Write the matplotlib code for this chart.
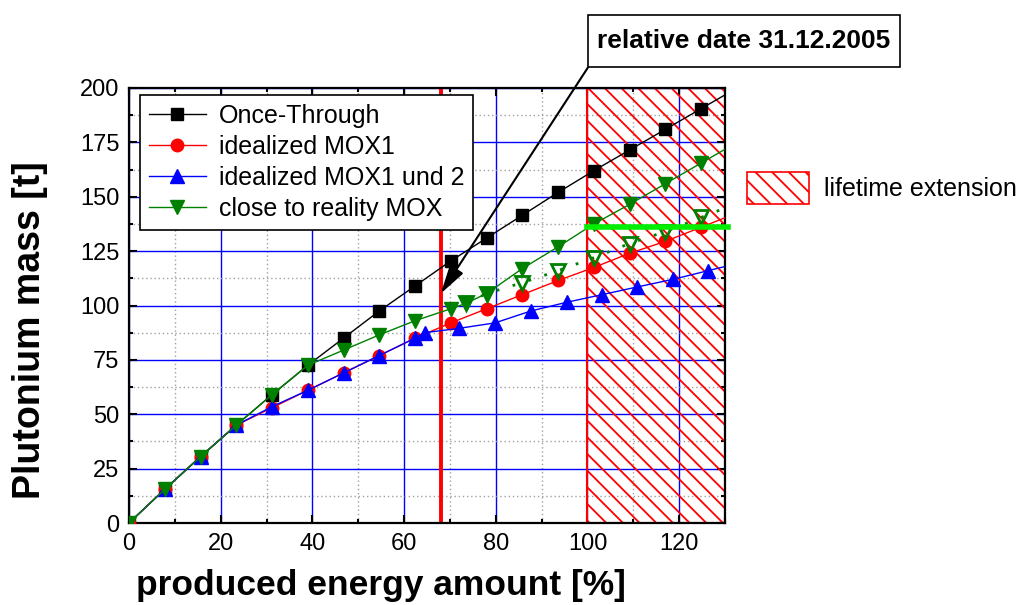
import numpy as np
import matplotlib
matplotlib.use("Agg")
import matplotlib.pyplot as plt
from matplotlib.patches import Patch
from matplotlib.path import Path
from matplotlib.ticker import MultipleLocator

# ---------------- data ----------------
x_ot = [0, 7.8, 15.6, 23.4, 31.2, 39.0, 46.8, 54.6, 62.4, 70.2, 78.0, 85.8, 93.6, 101.4, 109.2, 117.0, 124.8]
y_ot = [0, 15.5, 30.5, 45, 59, 72.5, 85, 97.5, 109, 120.5, 131, 141.5, 152, 162, 171.5, 181, 190.5]

x_mox1 = [0, 7.8, 15.6, 23.4, 31.2, 39.0, 46.8, 54.6, 62.4, 70.2, 78.0, 85.8, 93.6, 101.4, 109.2, 117.0, 124.8]
y_mox1 = [0, 15.5, 30.5, 45, 53, 61, 69, 77, 85, 92, 98.5, 105, 111.5, 117.5, 124, 129.5, 136]

x_mox12 = [0, 7.8, 15.6, 23.4, 31.2, 39.0, 46.8, 54.6, 62.4, 64.5, 72.0, 79.8, 87.7, 95.5, 103.2, 110.8, 118.6, 126.3]
y_mox12 = [0, 15.5, 30.5, 45, 53.5, 61, 69, 77, 85, 87.5, 89.5, 92, 97.5, 101.5, 105, 108.5, 112, 116]

x_real = [0, 7.8, 15.6, 23.4, 31.2, 39.0, 46.8, 54.6, 62.4, 70.2, 73.5, 78.0, 85.8, 93.6, 101.4, 109.2, 117.0, 124.8]
y_real = [0, 15.5, 30.5, 45, 59, 72.5, 79.5, 86.5, 93, 98.5, 101, 105.5, 117, 127, 137.5, 146.5, 156, 165.5]

x_real_open = [73.5, 78.0, 85.8, 93.6, 101.4, 109.2, 117.0, 124.8]
y_real_open = [101, 105.5, 110.5, 116, 122, 128.5, 134, 140.5]

labels = ["Once-Through", "idealized MOX1", "idealized MOX1 und 2", "close to reality MOX"]
x_ticks = [0, 20, 40, 60, 80, 100, 120]
y_ticks = [0, 25, 50, 75, 100, 125, 150, 175, 200]
ref_date_x = 68
ext_start, x_max = 100, 130
green_level = 136

GREEN = "#008000"
text_font = ["Liberation Sans", "DejaVu Sans"]

fig = plt.figure(figsize=(10.2, 6.05), dpi=100)
ax = fig.add_axes([129/1020, 1-523/605, 596/1020, 435/605])

ax.set_xlim(0, x_max)
ax.set_ylim(0, 200)
ax.set_axisbelow(True)

# grid
ax.xaxis.set_major_locator(MultipleLocator(20))
ax.xaxis.set_minor_locator(MultipleLocator(10))
ax.yaxis.set_major_locator(MultipleLocator(25))
ax.yaxis.set_minor_locator(MultipleLocator(12.5))
ax.grid(which="major", color="#0000ff", lw=1.0, ls="-")
ax.grid(which="minor", color="#a0a0a0", lw=1.0, ls=(0, (1, 2)))

# lifetime extension region
plt.rcParams["hatch.linewidth"] = 1.3
ax.axvspan(ext_start, x_max, facecolor="none", edgecolor="red", hatch="\\\\", lw=1.5, zorder=1.5)


def extend(xs, ys):
    slope = (ys[-1] - ys[-2]) / (xs[-1] - xs[-2])
    return [xs[-1], x_max], [ys[-1], ys[-1] + slope * (x_max - xs[-1])]


series = [
    (x_ot, y_ot, "black", "s", 8),
    (x_mox1, y_mox1, "red", "o", 9),
    (x_mox12, y_mox12, "blue", "^", 9.5),
    (x_real, y_real, GREEN, "v", 10),
]
handles = []
for (xs, ys, c, m, ms), lab in zip(series, labels):
    h, = ax.plot(xs, ys, color=c, lw=1.0, marker=m, ms=ms, mec=c, mfc=c, zorder=3, label=lab)
    ex, ey = extend(xs, ys)
    ax.plot(ex, ey, color=c, lw=1.0, zorder=3)
    handles.append(h)

ax.plot(x_real_open, y_real_open, color=GREEN, lw=2.0, ls=(0, (1, 5)), marker="v", ms=10,
        mfc="none", mec=GREEN, mew=2, zorder=3)
ex, ey = extend(x_real_open, y_real_open)
ax.plot(ex, ey, color=GREEN, lw=2.0, ls=(0, (1, 5)), zorder=3)

# reference date line & green level
ax.axvline(ref_date_x, color="red", lw=2.8, zorder=2.5)
ax.plot([ext_start, x_max + 0.6], [green_level, green_level], color="#00ee00", lw=4, zorder=4, clip_on=False)

# ticks
ax.set_xticks(x_ticks)
ax.set_yticks(y_ticks)
ax.tick_params(which="both", direction="in", top=True, right=True, width=1.5)
ax.tick_params(which="major", length=6, labelsize=17, pad=7)
ax.tick_params(which="minor", length=3)
for lab in ax.get_xticklabels() + ax.get_yticklabels():
    lab.set_family(text_font)
for s in ax.spines.values():
    s.set_linewidth(1.6)

# axis labels
ax.set_xlabel("produced energy amount [%]", fontsize=25.5, fontweight="bold", family=text_font)
ax.xaxis.set_label_coords((381-129)/596, (523-586)/435)
ax.xaxis.label.set_va("center")
ax.set_ylabel("Plutonium mass [t]", fontsize=27, fontweight="bold", family=text_font)
ax.yaxis.set_label_coords((30-129)/596, (523-330)/435)
ax.yaxis.label.set_va("center")

# legend
leg = ax.legend(handles=handles, loc="upper left", bbox_to_anchor=((140-129)/596, (523-95)/435),
                borderaxespad=0, fancybox=False, edgecolor="black", framealpha=1,
                prop={"family": text_font, "size": 18}, handlelength=2.3, labelspacing=0.28,
                borderpad=0.35, handletextpad=0.5)
leg.get_frame().set_linewidth(1.2)


def tall_box(x0, y0, width, height, mutation_size):
    px, py = 0.35 * mutation_size, 0.54 * mutation_size
    x0, y0 = x0 - px, y0 - py
    x1, y1 = x0 + width + 2 * px, y0 + height + 2 * py
    return Path([(x0, y0), (x1, y0), (x1, y1), (x0, y1), (x0, y0)], closed=True)


# annotation
ax.annotate("relative date 31.12.2005", xy=(ref_date_x, 105.5), xycoords="data",
            xytext=(744/1020, 1-41/605), textcoords="figure fraction",
            ha="center", va="center", fontsize=19, fontweight="bold", family=text_font,
            bbox=dict(boxstyle=tall_box, fc="white", ec="black", lw=1.2),
            arrowprops=dict(arrowstyle="-|>,head_length=1.1,head_width=0.3", color="black",
                            lw=1.5, mutation_scale=16, relpos=(0, 0), shrinkA=0, shrinkB=0),
            zorder=6, annotation_clip=False)

# lifetime extension legend
fig.legend(handles=[Patch(facecolor="white", edgecolor="red", hatch="\\\\", lw=1.2)],
           labels=["lifetime extension"], loc="center left",
           bbox_to_anchor=(747/1020, 1-188/605), frameon=False,
           prop={"family": text_font, "size": 18}, handlelength=2.5, handleheight=1.55,
           handletextpad=0.6, borderaxespad=0, borderpad=0)

fig.savefig("out.png", dpi=100)
